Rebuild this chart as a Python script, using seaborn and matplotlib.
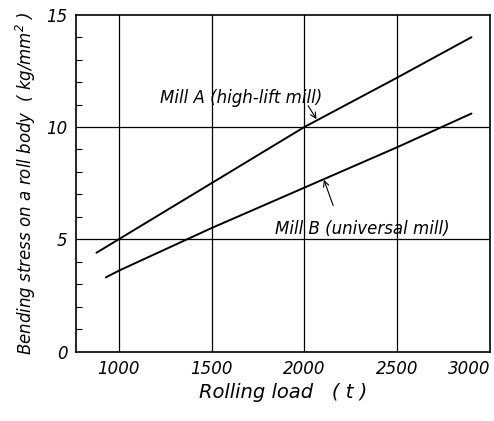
import pandas as pd
import seaborn as sns
import matplotlib.pyplot as plt
from matplotlib.ticker import MultipleLocator

# values
load_a = [880, 1000, 1500, 2000, 2500, 2900]
stress_a = [4.4, 5.0, 7.5, 10.0, 12.2, 14.0]
load_b = [930, 1000, 1500, 2000, 2500, 2900]
stress_b = [3.3, 3.6, 5.5, 7.3, 9.1, 10.6]
x_ticks = [1000, 1500, 2000, 2500, 3000]
y_ticks = [0, 5, 10, 15]

df = pd.concat([
    pd.DataFrame({'load': load_a, 'stress': stress_a, 'mill': 'A'}),
    pd.DataFrame({'load': load_b, 'stress': stress_b, 'mill': 'B'}),
])

sns.set_style("white")
plt.rcParams['font.family'] = ['DejaVu Sans']
plt.rcParams['font.style'] = 'italic'
plt.rcParams['text.color'] = 'black'
plt.rcParams['axes.labelcolor'] = 'black'
plt.rcParams['xtick.color'] = 'black'
plt.rcParams['ytick.color'] = 'black'

fig = plt.figure(figsize=(4.94, 4.21), dpi=100)
ax = fig.add_axes([0.154, 0.165, 0.838, 0.80])

sns.lineplot(data=df, x='load', y='stress', units='mill', estimator=None,
             color='black', linewidth=1.4, ax=ax, legend=False)

ax.set_xlim(770, 3000)
ax.set_ylim(0, 15)
ax.set_xticks(x_ticks)
ax.set_yticks(y_ticks)
ax.set_xticklabels([str(t) for t in x_ticks], fontsize=12, style='italic')
ax.get_xticklabels()[-1].set_ha('right')
ax.set_yticklabels([str(t) for t in y_ticks], fontsize=12, style='italic')
ax.yaxis.set_minor_locator(MultipleLocator(1))
ax.tick_params(axis='y', which='minor', direction='in', length=4, width=0.8, left=True)
ax.tick_params(axis='both', which='major', length=0, pad=6)

for v in [1000, 1500, 2000, 2500]:
    ax.axvline(v, color='black', linewidth=0.9)
for v in [5, 10]:
    ax.axhline(v, color='black', linewidth=0.9)
for s in ax.spines.values():
    s.set_color('black')
    s.set_linewidth(1.2)

ax.set_xlabel('Rolling load   ( t )', fontsize=14, style='italic', labelpad=4)
ax.set_ylabel('Bending stress on a roll body  ( kg/mm$^2$ )', fontsize=12,
              style='italic', labelpad=6)

ax.text(1660, 11.3, 'Mill A (high-lift mill)', fontsize=12, style='italic',
        ha='center', va='center')
ax.annotate('', xy=(2065, 10.35), xytext=(2020, 10.95),
            arrowprops=dict(arrowstyle='->', color='black', lw=0.8,
                            shrinkA=0, shrinkB=0))
ax.text(2310, 5.45, 'Mill B (universal mill)', fontsize=12, style='italic',
        ha='center', va='center')
ax.annotate('', xy=(2105, 7.65), xytext=(2155, 6.5),
            arrowprops=dict(arrowstyle='->', color='black', lw=0.8,
                            shrinkA=0, shrinkB=0))

fig.savefig('out.png', dpi=100)
